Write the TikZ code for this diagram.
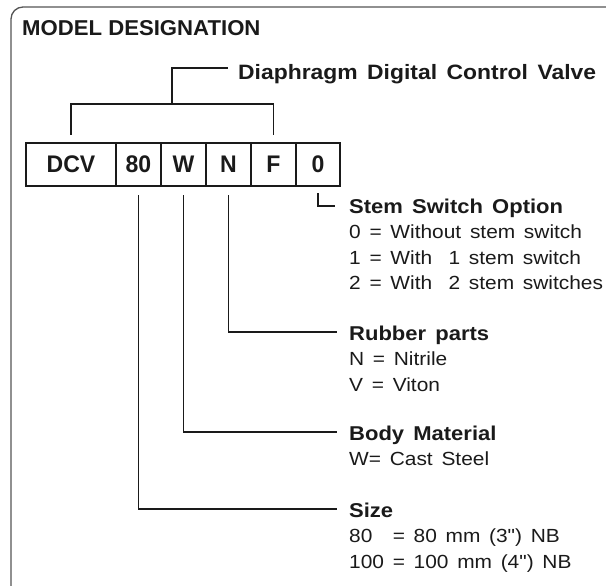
\documentclass[tikz,border=0pt]{standalone}
\usepackage{fontspec}
\setmainfont{Liberation Sans}[FakeStretch=1.1,WordSpace=1.5,Ligatures=TeXOff]
\newfontfamily\headfont{Liberation Sans}[FakeStretch=1.03]
\newfontfamily\cellfont{Liberation Sans}[FakeStretch=0.96]
\usetikzlibrary{positioning}
\definecolor{ink}{HTML}{1A1A1A}
\definecolor{rim}{HTML}{555555}
\tikzset{cell/.style={draw=ink,line width=1.1pt,minimum height=43pt,minimum width=45pt,inner sep=0pt,outer sep=0pt,font=\cellfont\bfseries\fontsize{24}{24}\selectfont,text=ink},
lead/.style={draw=ink,line width=1.1pt},
hd/.style={anchor=base west,inner sep=0pt,font=\bfseries\fontsize{20}{20}\selectfont,text=ink},
opt/.style={anchor=north west,align=left,inner sep=0pt,font=\fontsize{19}{25.5}\selectfont,text=ink}}

\begin{document}
\begin{tikzpicture}[x=1pt,y=-1pt]
\useasboundingbox (0,0) rectangle (606,586);
\clip (0,0) rectangle (606,586);
\draw[rim,line width=1.3pt,rounded corners=12pt] (11,7) rectangle (640,598);
\node[anchor=base west,inner sep=0pt,text=ink,font=\headfont\bfseries\fontsize{21.5}{21}\selectfont] (title) at (22,36) {MODEL DESIGNATION};
% code boxes
\node[cell,minimum width=90pt] (dcv) at (71,164.5) {DCV};
\node[cell,right=0pt of dcv] (size) {80};
\node[cell,right=0pt of size] (body) {W};
\node[cell,right=0pt of body] (rubber) {N};
\node[cell,right=0pt of rubber] (f) {F};
\node[cell,minimum width=44pt,right=0pt of f] (stem) {0};
% product name
\node[anchor=base west,inner sep=0pt,text=ink,font=\bfseries\fontsize{20.8}{21}\selectfont] (valve) at (238,80) {Diaphragm Digital Control Valve};
\coordinate (brk) at (172,104);
\draw[lead] ([yshift=8pt]dcv.north) |- (brk) -| ([yshift=8pt]f.north);
\draw[lead] (brk) |- ([xshift=-10pt,yshift=12pt]valve.base west);
% options
\node[hd] (stemhd) at (349,213) {Stem Switch Option};
\node[opt] (stemopt) at ([yshift=-12pt]stemhd.base west) {0 = Without stem switch\\1 = With\hspace{0.4em} 1 stem switch\\2 = With\hspace{0.4em} 2 stem switches};
\node[hd] (rubhd) at (349,340) {Rubber parts};
\node[opt] (rubopt) at ([yshift=-12pt]rubhd.base west) {N = Nitrile\\V = Viton};
\node[hd] (bodyhd) at (349,440) {Body Material};
\node[opt] (bodyopt) at ([yshift=-12pt]bodyhd.base west) {W= Cast Steel};
\node[hd] (sizehd) at (349,517) {Size};
\node[opt] (sizeopt) at ([yshift=-12pt]sizehd.base west) {80\phantom{0} = 80 mm (3") NB\\100 = 100 mm (4") NB};
\draw[lead] ([yshift=-7pt]stem.south) |- ([xshift=-14pt,yshift=7pt]stemhd.base west);
\draw[lead] ([yshift=-9pt]rubber.south) |- ([xshift=-12pt,yshift=8pt]rubhd.base west);
\draw[lead] ([yshift=-9pt]body.south) |- ([xshift=-12pt,yshift=8pt]bodyhd.base west);
\draw[lead] ([yshift=-9pt]size.south) |- ([xshift=-12pt,yshift=8pt]sizehd.base west);
\end{tikzpicture}
\end{document}
